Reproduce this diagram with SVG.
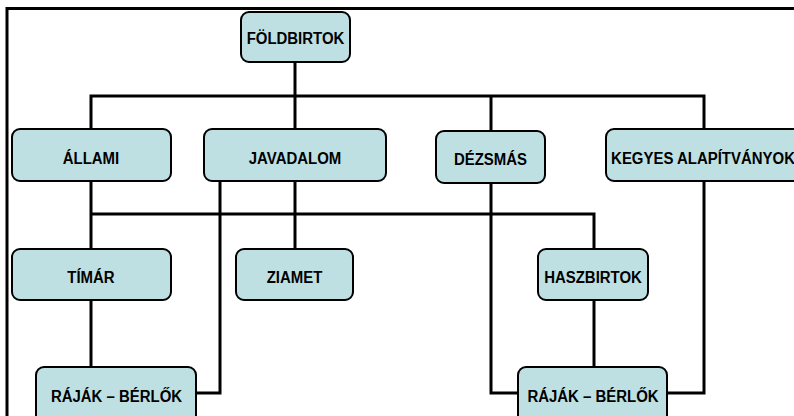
<svg xmlns="http://www.w3.org/2000/svg" width="794" height="416" viewBox="0 0 794 416">
<style>
.frame{fill:none;stroke:#000;stroke-width:3}
.conn{fill:none;stroke:#000;stroke-width:3;stroke-linejoin:miter}
.box{fill:#BEE0E3;stroke:#000;stroke-width:2}
.lbl{font-family:"Liberation Sans",Arial,sans-serif;font-weight:bold;font-size:17px;fill:#000;text-anchor:middle}
</style>
<rect width="794" height="416" fill="#fff"/>
<g id="frame">
<polyline class="frame" points="7,416 7,8.5 794,8.5"/>
</g>
<g id="connectors">
<line class="conn" x1="295" y1="62" x2="295" y2="129"/>
<polyline class="conn" points="91,129 91,96 704,96 704,129"/>
<line class="conn" x1="491" y1="96" x2="491" y2="131"/>
<line class="conn" x1="91" y1="181" x2="91" y2="249"/>
<polyline class="conn" points="91,214 594,214 594,249"/>
<line class="conn" x1="295" y1="181" x2="295" y2="249"/>
<polyline class="conn" points="220,181 220,393 196,393"/>
<line class="conn" x1="91" y1="300" x2="91" y2="367"/>
<line class="conn" x1="594" y1="300" x2="594" y2="367"/>
<polyline class="conn" points="491,183 491,393 519,393"/>
<polyline class="conn" points="704,181 704,393 667,393"/>
</g>
<g id="foldbirtok"><rect class="box" x="241" y="12" width="109" height="50" rx="8"/><text class="lbl" transform="translate(295.5,44) scale(0.88,1)">FÖLDBIRTOK</text></g>
<g id="allami"><rect class="box" x="12" y="129" width="159" height="52" rx="8"/><text class="lbl" transform="translate(91,164) scale(0.88,1)">ÁLLAMI</text></g>
<g id="javadalom"><rect class="box" x="204" y="129" width="182" height="52" rx="8"/><text class="lbl" transform="translate(295,164) scale(0.88,1)">JAVADALOM</text></g>
<g id="dezsmas"><rect class="box" x="436" y="131" width="109" height="52" rx="8"/><text class="lbl" transform="translate(490.5,165) scale(0.88,1)">DÉZSMÁS</text></g>
<g id="kegyes"><rect class="box" x="606" y="129" width="196" height="52" rx="8"/><text class="lbl" transform="translate(703,164) scale(0.88,1)">KEGYES ALAPÍTVÁNYOK</text></g>
<g id="timar"><rect class="box" x="12" y="249" width="159" height="51" rx="8"/><text class="lbl" transform="translate(91,283) scale(0.88,1)">TÍMÁR</text></g>
<g id="ziamet"><rect class="box" x="236" y="249" width="117" height="51" rx="8"/><text class="lbl" transform="translate(294.5,283) scale(0.88,1)">ZIAMET</text></g>
<g id="haszbirtok"><rect class="box" x="538" y="249" width="110" height="51" rx="8"/><text class="lbl" transform="translate(593,283) scale(0.88,1)">HASZBIRTOK</text></g>
<g id="rajak1"><rect class="box" x="36" y="367" width="160" height="60" rx="8"/><text class="lbl" transform="translate(116.5,401.5) scale(0.88,1)">RÁJÁK – BÉRLŐK</text></g>
<g id="rajak2"><rect class="box" x="518" y="367" width="149" height="60" rx="8"/><text class="lbl" transform="translate(593,401.5) scale(0.88,1)">RÁJÁK – BÉRLŐK</text></g>
</svg>
